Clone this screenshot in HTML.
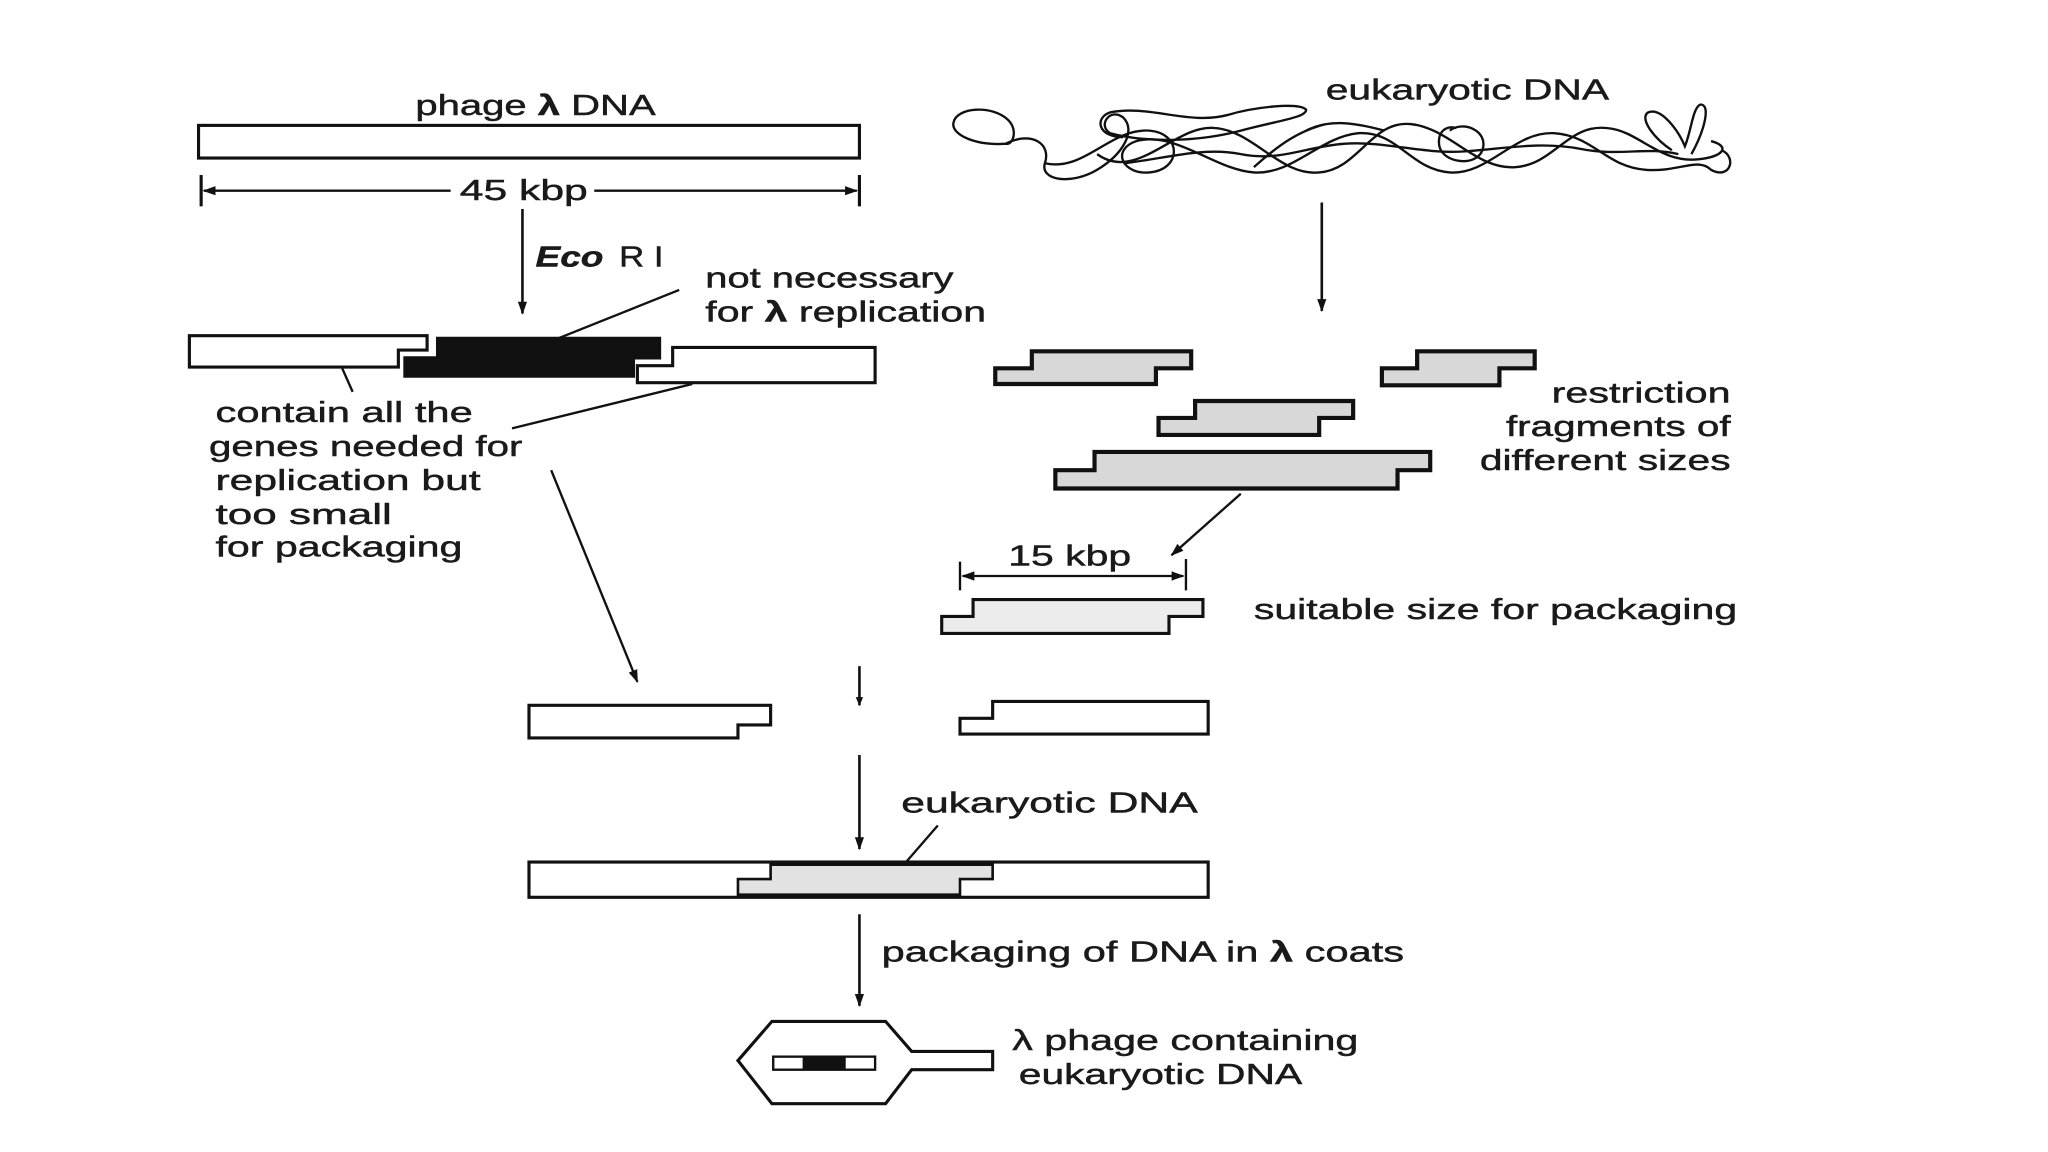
<!DOCTYPE html>
<html><head><meta charset="utf-8"><style>
html,body{margin:0;padding:0;background:#fff;}
svg{display:block}
text{font-family:"Liberation Sans",sans-serif;fill:#1a1a1a;font-size:22px;stroke:#1a1a1a;stroke-width:0.35px;}
</style></head><body>
<svg width="2048" height="1152" viewBox="0 0 1568 882" preserveAspectRatio="none" xmlns="http://www.w3.org/2000/svg">
<defs>
<marker id="ah" viewBox="0 0 10 10" refX="9" refY="5" markerWidth="7" markerHeight="9" orient="auto" markerUnits="userSpaceOnUse">
<path d="M0,1 L10,5 L0,9 z" fill="#111"/></marker>
<marker id="ah2" viewBox="0 0 10 10" refX="9" refY="5" markerWidth="14" markerHeight="10" orient="auto-start-reverse" markerUnits="userSpaceOnUse">
<path d="M0,1.5 L10,5 L0,8.5 z" fill="#111"/></marker>
<marker id="ah3" viewBox="0 0 10 10" refX="9" refY="5" markerWidth="18" markerHeight="10" orient="auto" markerUnits="userSpaceOnUse">
<path d="M0,1.5 L10,5 L0,8.5 z" fill="#111"/></marker>
</defs>
<g stroke="#111" stroke-width="2.4" fill="none">
<rect x="152" y="96" width="506" height="25" fill="#fff"/>
<line x1="154" y1="134" x2="154" y2="158"/>
<line x1="658" y1="134" x2="658" y2="158"/>
<line x1="156" y1="146" x2="345" y2="146" marker-start="url(#ah2)" stroke-width="1.8"/>
<line x1="455" y1="146" x2="656" y2="146" marker-end="url(#ah2)" stroke-width="1.8"/>
<line x1="400" y1="160" x2="400" y2="240" marker-end="url(#ah3)" stroke-width="2"/>
<polygon points="145,257 327,257 327,268 305,268 305,281 145,281" fill="#fff"/>
<polygon points="335,259 505,259 505,274 485,274 485,288 310,288 310,274 335,274" fill="#111"/>
<polygon points="515,266 670,266 670,293 488,293 488,280 515,280" fill="#fff"/>
<line x1="520" y1="222" x2="420" y2="262" stroke-width="1.8"/>
<line x1="262" y1="282" x2="270" y2="300" stroke-width="1.8"/>
<line x1="530" y1="294" x2="392" y2="328" stroke-width="1.8"/>
<line x1="422" y1="360" x2="488" y2="522" marker-end="url(#ah3)" stroke-width="1.8"/>
<g stroke-width="1.8">
<path d="M770,110 C750,112 728,104 730,94 C732,82 760,80 772,92 C780,100 775,112 770,110 C790,100 805,110 800,125 C796,138 820,142 840,130 C860,118 870,100 860,90 C850,82 840,96 850,102 C880,110 920,108 950,100 C980,92 1000,90 1000,84 C995,78 960,82 940,88 C910,96 880,80 850,86 C838,90 840,105 860,105"/>
<path d="M800,125 C830,132 850,98 880,100 C905,102 905,130 880,132 C860,134 850,115 870,108 C900,100 930,130 960,132 C990,134 1010,105 1040,102 C1070,100 1080,130 1110,132 C1140,134 1160,100 1190,102 C1220,104 1230,128 1260,130 C1285,132 1300,120 1310,130 C1325,138 1330,120 1318,115"/>
<path d="M840,118 C870,140 900,95 930,98 C960,100 980,135 1010,132 C1040,130 1050,92 1080,95 C1110,98 1130,130 1160,128 C1190,126 1200,95 1230,98 C1255,100 1270,125 1300,122 C1320,120 1325,112 1310,108"/>
<path d="M860,125 C890,122 920,112 950,118 C980,124 1000,112 1030,110 C1060,108 1090,118 1120,116 C1150,114 1180,108 1210,114 C1240,120 1260,112 1285,118"/>
<path d="M1110,100 C1120,92 1140,100 1135,115 C1130,128 1105,125 1102,112 C1100,100 1108,96 1115,98"/>
<path d="M1280,115 C1265,105 1255,90 1262,86 C1272,82 1285,100 1290,112 C1295,100 1296,82 1302,80 C1310,80 1305,100 1295,118"/>
<path d="M1000,100 C1020,90 1040,95 1060,100 M960,128 C980,110 995,100 1015,95"/>
</g>
<line x1="1012" y1="155" x2="1012" y2="238" marker-end="url(#ah3)" stroke-width="2"/>
<g fill="#d8d8d8" stroke-width="3.2">
<polygon points="790,269 912,269 912,282 885,282 885,294 762,294 762,282 790,282"/>
<polygon points="1085,269 1175,269 1175,282 1148,282 1148,295 1058,295 1058,282 1085,282"/>
<polygon points="915,307 1036,307 1036,320 1010,320 1010,333 887,333 887,320 915,320"/>
<polygon points="838,346 1095,346 1095,360 1070,360 1070,374 808,374 808,360 838,360"/>
</g>
<line x1="950" y1="378" x2="897" y2="425" marker-end="url(#ah3)" stroke-width="1.8"/>
<line x1="735" y1="430" x2="735" y2="452" stroke-width="1.8"/>
<line x1="908" y1="428" x2="908" y2="452" stroke-width="1.8"/>
<line x1="737" y1="441" x2="906" y2="441" marker-start="url(#ah2)" marker-end="url(#ah2)" stroke-width="1.8"/>
<polygon points="745,459 921,459 921,472 895,472 895,485 721,485 721,472 745,472" fill="#ececec" stroke-width="2.4"/>
<line x1="658" y1="510" x2="658" y2="540" marker-end="url(#ah)" stroke-width="2"/>
<polygon points="405,540 590,540 590,555 565,555 565,565 405,565" fill="#fff"/>
<polygon points="760,537 925,537 925,562 735,562 735,550 760,550" fill="#fff"/>
<line x1="658" y1="578" x2="658" y2="650" marker-end="url(#ah3)" stroke-width="2"/>
<line x1="718" y1="632" x2="692" y2="662" stroke-width="1.8"/>
<rect x="405" y="660" width="520" height="27" fill="#fff"/>
<polygon points="590,662 760,662 760,673 735,673 735,685 565,685 565,673 590,673" fill="#e2e2e2" stroke-width="2"/>
<line x1="658" y1="700" x2="658" y2="770" marker-end="url(#ah3)" stroke-width="2"/>
<polygon points="565,812 591,782 678,782 698,805 760,805 760,819 698,819 678,845 591,845" fill="#fff"/>
<rect x="592" y="809" width="78" height="10" fill="#fff" stroke-width="1.8"/>
<rect x="615" y="809" width="32" height="10" fill="#111" stroke-width="1"/>
</g>
<g>
<text x="318" y="88" textLength="184" lengthAdjust="spacingAndGlyphs">phage <tspan font-weight="bold">λ</tspan> DNA</text>
<text x="352" y="153" textLength="98" lengthAdjust="spacingAndGlyphs">45 kbp</text>
<text x="410" y="204" font-style="italic" font-weight="bold" textLength="52" lengthAdjust="spacingAndGlyphs">Eco</text>
<text x="474" y="204" textLength="34" lengthAdjust="spacingAndGlyphs">R I</text>
<text x="540" y="220" textLength="190" lengthAdjust="spacingAndGlyphs">not necessary</text>
<text x="540" y="246" textLength="215" lengthAdjust="spacingAndGlyphs">for <tspan font-weight="bold">λ</tspan> replication</text>
<text x="165" y="323" textLength="197" lengthAdjust="spacingAndGlyphs">contain all the</text>
<text x="160" y="349" textLength="240" lengthAdjust="spacingAndGlyphs">genes needed for</text>
<text x="165" y="375" textLength="203" lengthAdjust="spacingAndGlyphs">replication but</text>
<text x="165" y="401" textLength="135" lengthAdjust="spacingAndGlyphs">too  small</text>
<text x="165" y="426" textLength="189" lengthAdjust="spacingAndGlyphs">for packaging</text>
<text x="1015" y="76" textLength="217" lengthAdjust="spacingAndGlyphs">eukaryotic DNA</text>
<text x="1188" y="308" textLength="137" lengthAdjust="spacingAndGlyphs">restriction</text>
<text x="1153" y="334" textLength="172" lengthAdjust="spacingAndGlyphs">fragments of</text>
<text x="1133" y="360" textLength="192" lengthAdjust="spacingAndGlyphs">different sizes</text>
<text x="772" y="433" textLength="94" lengthAdjust="spacingAndGlyphs">15 kbp</text>
<text x="960" y="474" textLength="370" lengthAdjust="spacingAndGlyphs">suitable size for packaging</text>
<text x="690" y="622" textLength="227" lengthAdjust="spacingAndGlyphs">eukaryotic DNA</text>
<text x="675" y="736" textLength="400" lengthAdjust="spacingAndGlyphs">packaging of DNA in <tspan font-weight="bold">λ</tspan> coats</text>
<text x="775" y="804" textLength="265" lengthAdjust="spacingAndGlyphs">λ phage containing</text>
<text x="780" y="830" textLength="217" lengthAdjust="spacingAndGlyphs">eukaryotic DNA</text>
</g>
</svg>
</body></html>
